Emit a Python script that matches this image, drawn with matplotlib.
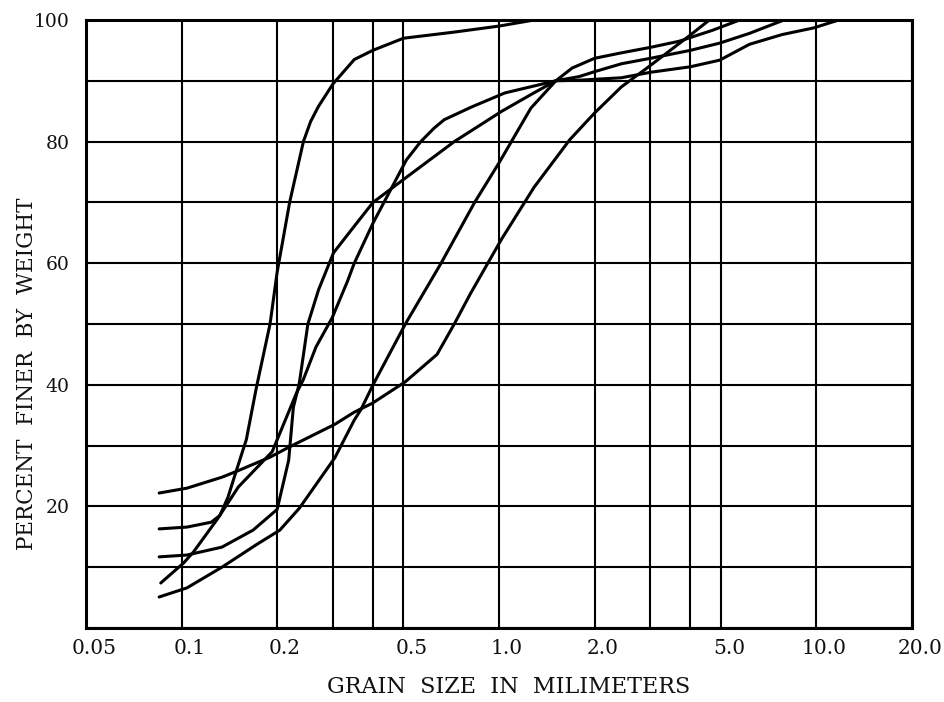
import matplotlib
matplotlib.use("Agg")
import matplotlib.pyplot as plt
from matplotlib.transforms import ScaledTranslation

# grain size in mm and percent finer
size_a = [0.085, 0.104, 0.134, 0.148, 0.19, 0.219, 0.304, 0.35, 0.40, 0.507, 0.638,
          0.723, 0.813, 0.922, 1.02, 1.29, 1.67, 2.0, 2.43, 2.96, 4.0, 4.6]
pct_a = [22.2, 23.0, 24.8, 25.7, 28.1, 29.8, 33.5, 35.5, 37.0, 40.5, 45.0,
         50.0, 55.0, 60.0, 64.0, 72.5, 80.3, 84.7, 89.0, 92.3, 97.5, 100.0]

size_b = [0.085, 0.104, 0.134, 0.172, 0.204, 0.235, 0.304, 0.35, 0.368, 0.401, 0.507,
          0.657, 0.838, 1.0, 1.26, 1.51, 1.70, 2.0, 2.43, 3.0, 3.69, 4.70, 5.73]
pct_b = [5.1, 6.6, 10.0, 13.7, 16.1, 19.7, 28.0, 34.2, 36.0, 40.0, 50.0,
         60.0, 70.0, 76.5, 85.5, 90.0, 92.1, 93.7, 94.6, 95.5, 96.5, 98.3, 100.0]

size_c = [0.086, 0.1015, 0.109, 0.130, 0.151, 0.193, 0.230, 0.2416, 0.265, 0.298, 0.333,
          0.350, 0.401, 0.511, 0.567, 0.624, 0.672, 0.82, 1.043, 1.51, 1.79, 2.0, 2.43,
          3.0, 4.0, 4.96, 6.15, 7.9]
pct_c = [7.4, 10.7, 12.5, 18.0, 23.2, 29.0, 38.6, 40.8, 46.2, 51.0, 57.0,
         60.0, 66.6, 77.0, 80.0, 82.2, 83.6, 85.7, 88.0, 90.0, 90.7, 91.5, 92.8,
         93.7, 95.0, 96.2, 97.8, 100.0]

size_d = [0.085, 0.104, 0.134, 0.168, 0.200, 0.2175, 0.225, 0.235, 0.250, 0.270, 0.301,
          0.343, 0.401, 0.507, 0.723, 1.021, 1.287, 1.51, 1.79, 2.43, 3.0, 4.0, 4.96,
          6.15, 7.79, 9.8, 11.76]
pct_d = [11.7, 12.0, 13.3, 16.1, 19.5, 27.6, 36.3, 40.3, 50.0, 55.6, 61.7,
         65.5, 70.0, 74.0, 80.0, 85.0, 88.0, 90.0, 90.1, 90.5, 91.4, 92.3, 93.4,
         96.0, 97.6, 98.7, 100.0]

size_e = [0.085, 0.104, 0.124, 0.132, 0.140, 0.148, 0.160, 0.172, 0.190, 0.200, 0.219,
          0.242, 0.255, 0.270, 0.300, 0.350, 0.400, 0.500, 0.720, 1.000, 1.290]
pct_e = [16.3, 16.6, 17.4, 18.5, 21.5, 25.5, 31.0, 39.5, 50.0, 58.5, 70.0,
         80.0, 83.3, 85.8, 89.5, 93.5, 95.0, 97.0, 98.0, 99.0, 100.0]

x_ticks = [0.05, 0.1, 0.2, 0.3, 0.4, 0.5, 1.0, 2.0, 3.0, 4.0, 5.0, 10.0, 20.0]
x_labels = ['0.05', '0.1', '0.2', '', '', '0.5', '1.0', '2.0', '', '', '5.0', '10.0', '20.0']
y_ticks = [0, 10, 20, 30, 40, 50, 60, 70, 80, 90, 100]
y_labels = ['', '', '20', '', '40', '', '60', '', '80', '', '100']

plt.rcParams['font.family'] = ['DejaVu Serif']

fig = plt.figure(figsize=(9.45, 7.02), dpi=100)
ax = fig.add_axes([86/945, 1 - 628/702, (912 - 86)/945, (628 - 20)/702])

for xs, ys in [(size_a, pct_a), (size_b, pct_b), (size_c, pct_c), (size_d, pct_d), (size_e, pct_e)]:
    ax.plot(xs, ys, color='black', lw=2.2, solid_joinstyle='round', solid_capstyle='round', zorder=3)

ax.set_xscale('log')
ax.set_xlim(0.05, 20)
ax.set_ylim(0, 100)
ax.set_xticks(x_ticks)
ax.set_xticklabels(x_labels)
ax.minorticks_off()
ax.set_yticks(y_ticks)
ax.set_yticklabels(y_labels)
ax.tick_params(axis='both', length=0, colors='#111111')
ax.tick_params(axis='x', pad=8, labelsize=14.5)
ax.tick_params(axis='y', pad=12, labelsize=13.5)
ax.grid(True, color='black', lw=1.5)
for s in ax.spines.values():
    s.set_linewidth(2.2)
    s.set_color('black')

# labels in the original sit a little right of their grid lines
shift = ScaledTranslation(8/100, 0, fig.dpi_scale_trans)
for lab in ax.get_xticklabels():
    lab.set_transform(lab.get_transform() + shift)

fig.text(509/945, 1 - 687/702, 'GRAIN  SIZE  IN  MILIMETERS', ha='center', va='center', fontsize=16, color='#111111')
fig.text(27/945, 1 - 374/702, 'PERCENT  FINER  BY  WEIGHT', ha='center', va='center', rotation=90,
         fontsize=15.5, color='#111111')

fig.savefig('out.png', dpi=100)
